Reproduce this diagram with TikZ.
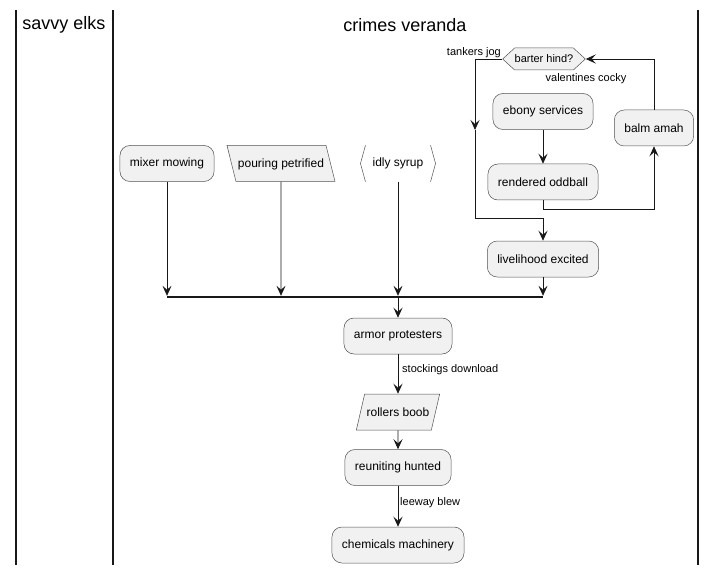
\documentclass[tikz,border=0pt]{standalone}
\usepackage{fontspec}
\setmainfont{Liberation Sans}
\usetikzlibrary{arrows.meta,shapes.geometric,shapes.symbols}

\definecolor{actfill}{HTML}{F1F1F1}
\definecolor{actline}{HTML}{181818}

\tikzset{
  act/.style={draw=actline!75, fill=actfill, line width=0.5pt, rounded corners=10pt,
    minimum height=36pt, inner xsep=10pt, font=\fontsize{12}{14}\selectfont},
  iobox/.style={draw=actline!75, fill=actfill, line width=0.5pt, trapezium,
    inner ysep=0pt, text height=22pt, text depth=14pt, inner xsep=2pt,
    font=\fontsize{12}{14}\selectfont},
  leanback/.style={trapezium left angle=104, trapezium right angle=76},
  leanfwd/.style={trapezium left angle=77, trapezium right angle=103},
  plainbox/.style={minimum height=36pt, inner xsep=12pt, font=\fontsize{12}{14}\selectfont},
  cond/.style={draw=actline!75, fill=actfill, line width=0.5pt, signal,
    signal to=west and east, signal pointer angle=85, minimum height=22pt,
    inner xsep=0pt, inner ysep=2pt, font=\fontsize{11}{13}\selectfont},
  joinbar/.style={fill=actline, inner sep=0pt, minimum height=2pt},
  lbl/.style={inner sep=1pt, font=\fontsize{11}{13}\selectfont},
  title/.style={font=\fontsize{18}{20}\selectfont},
  lane/.style={line width=1.2pt, draw=actline},
  flow/.style={draw=actline, line width=0.8pt, -{Stealth[length=10pt,width=9pt,inset=4pt]}}
}

\begin{document}
\begin{tikzpicture}[x=1pt, y=-1pt]
	\useasboundingbox (0,0) rectangle (717,572);
	% swimlanes
	\draw[lane] (16,10) -- (16,565);
	\draw[lane] (113,10) -- (113,565);
	\draw[lane] (698,10) -- (698,565);
	\node[title] (elks) at (64,25) {savvy elks};
	\node[title] (veranda) at (405,25) {crimes veranda};
	% activities
	\node[act] (mixer) at (167,163.5) {mixer mowing};
	\node[iobox, leanback] (pouring) at (281,163.5) {pouring petrified};
	\node[plainbox] (idly) at (398,163.5) {idly syrup};
	\draw[draw=actline!75, line width=0.5pt] ([xshift=5pt]idly.north west) -- (idly.west) -- ([xshift=5pt]idly.south west);
	\draw[draw=actline!75, line width=0.5pt] ([xshift=-5pt]idly.north east) -- (idly.east) -- ([xshift=-5pt]idly.south east);
	\node[cond] (barter) at (544,59) {barter hind?};
	\node[act] (ebony) at (543,111.5) {ebony services};
	\node[act] (rendered) at (543,182) {rendered oddball};
	\node[act] (balm) at (654,128) {balm amah};
	\node[act] (livelihood) at (543,259) {livelihood excited};
	\node[joinbar, minimum width=376pt] (join) at (355,297) {};
	\node[act] (armor) at (398,336) {armor protesters};
	\node[iobox, leanfwd] (rollers) at (398,412) {rollers boob};
	\node[act] (reuniting) at (398,467.5) {reuniting hunted};
	\node[act] (chemicals) at (398,545) {chemicals machinery};
	% labels
	\node[lbl, anchor=east] (tankers) at (502,53) {tankers jog};
	\node[lbl] (valentines) at (586,79) {valentines cocky};
	\node[lbl, anchor=west] (stockings) at (401,370) {stockings download};
	\node[lbl, anchor=west] (leeway) at (399,503) {leeway blew};
	% loop
	\coordinate (jog) at (475,130);
	\coordinate (jogend) at (543,218);
	\draw[flow] (ebony) -- (rendered);
	\draw[flow] (rendered.south) -- ++(0,9) -| (balm.south);
	\draw[flow] (balm.north) |- (barter.east);
	\draw[flow] (barter.west) -| (jog);
	\draw[flow] (jog) |- (jogend) -- (livelihood.north);
	% join
	\draw[flow] (mixer) -- (mixer |- join.north);
	\draw[flow] (pouring) -- (pouring |- join.north);
	\draw[flow] (idly) -- (idly |- join.north);
	\draw[flow] (livelihood) -- (livelihood |- join.north);
	\draw[flow] (armor |- join.south) -- (armor);
	% main line
	\draw[flow] (armor) -- (rollers);
	\draw[flow] (rollers) -- (reuniting);
	\draw[flow] (reuniting) -- (chemicals);
\end{tikzpicture}
\end{document}
